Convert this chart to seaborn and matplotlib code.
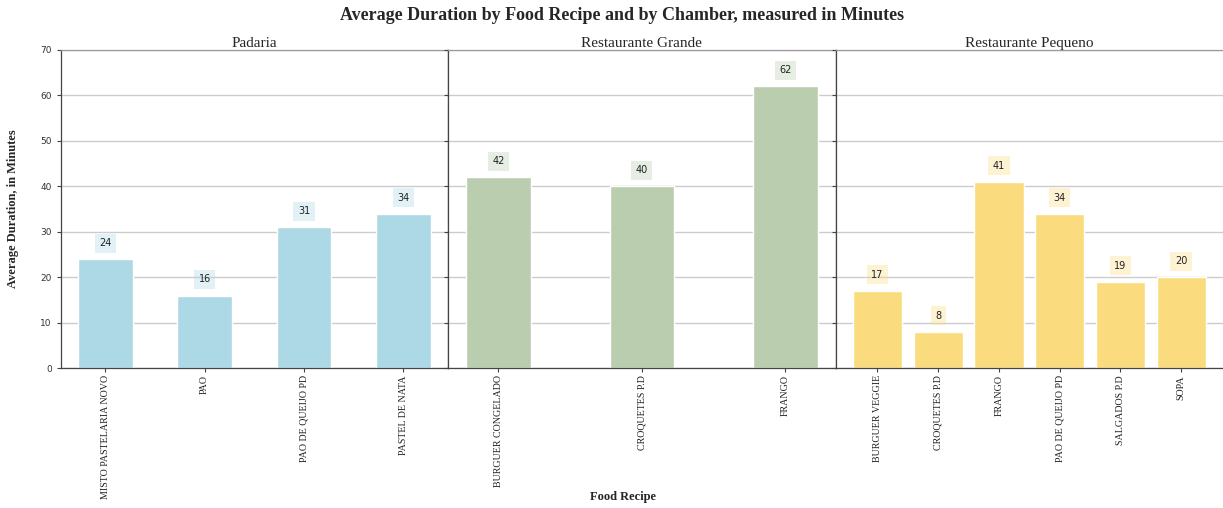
import matplotlib
matplotlib.use("Agg")
import matplotlib.pyplot as plt
import seaborn as sns
import pandas as pd

sns.set_style("white")

# Average duration (minutes) per recipe, grouped by chamber
padaria_recipes = ["MISTO PASTELARIA NOVO", "PAO", "PAO DE QUEIJO PD", "PASTEL DE NATA"]
padaria_minutes = [24, 16, 31, 34]

grande_recipes = ["BURGUER CONGELADO", "CROQUETES P.D", "FRANGO"]
grande_minutes = [42, 40, 62]

pequeno_recipes = ["BURGUER VEGGIE", "CROQUETES P.D", "FRANGO", "PAO DE QUEIJO PD",
                   "SALGADOS P.D", "SOPA"]
pequeno_minutes = [17, 8, 41, 34, 19, 20]

chambers = ["Padaria", "Restaurante Grande", "Restaurante Pequeno"]
chamber_colors = ["#ADD8E6", "#BACDAF", "#FADC7E"]

y_ticks = [0, 10, 20, 30, 40, 50, 60, 70]

SERIF = "Liberation Serif"

panels = [
    (padaria_recipes, padaria_minutes, 0.55, (-0.45, 3.45)),
    (grande_recipes, grande_minutes, 0.45, (-0.35, 2.35)),
    (pequeno_recipes, pequeno_minutes, 0.81, (-0.69, 5.69)),
]

fig = plt.figure(figsize=(12.23, 5.08), dpi=100)
gs = fig.add_gridspec(1, 3, left=0.0496, right=1.0, top=0.9016, bottom=0.275, wspace=0)
axes = [fig.add_subplot(gs[0, i]) for i in range(3)]

for i, (ax, (recipes, minutes, width, xlim)) in enumerate(zip(axes, panels)):
    df = pd.DataFrame({"recipe": recipes, "minutes": minutes})
    sns.barplot(data=df, x="recipe", y="minutes", color=chamber_colors[i],
                width=width, saturation=1, ax=ax, errorbar=None, zorder=2)
    ax.set_xlim(*xlim)
    ax.set_ylim(0, 70)
    ax.set_yticks(y_ticks)
    ax.yaxis.grid(True, color="#cccccc", linewidth=1, zorder=0)
    ax.set_axisbelow(True)
    ax.set_xlabel("")
    ax.set_ylabel("")
    ax.set_title(chambers[i], fontsize=11, family=SERIF, pad=2)

    for container in ax.containers:
        labels = ax.bar_label(container, fmt="%d", padding=8, fontsize=7,
                              color="#222222", family="DejaVu Sans")
        for t in labels:
            t.set_bbox(dict(facecolor=chamber_colors[i], alpha=0.35,
                            edgecolor="none", pad=3.2))

    ax.tick_params(axis="x", bottom=True, length=3, width=0.8, color="#444444",
                   labelsize=7.2, labelrotation=90, labelcolor="#222222", pad=2)
    ax.tick_params(axis="y", left=True, length=3, width=0.8, color="#444444",
                   labelsize=6.5, labelcolor="#333333")
    for lbl in ax.get_xticklabels():
        lbl.set_family(SERIF)
    if i > 0:
        ax.tick_params(axis="y", labelleft=False)

    for side in ["left", "right", "bottom"]:
        ax.spines[side].set_visible(True)
        ax.spines[side].set_color("#444444")
        ax.spines[side].set_linewidth(0.9)
    ax.spines["top"].set_visible(True)
    ax.spines["top"].set_color("#999999")
    ax.spines["top"].set_linewidth(0.9)

# outermost right edge runs flush with the figure border
axes[-1].spines["right"].set_visible(False)

axes[0].set_ylabel("Average Duration, in Minutes", fontsize=9, family=SERIF,
                   fontweight="bold", labelpad=15)

fig.text(0.509, 0.0217, "Food Recipe", ha="center", va="center", fontsize=9,
         family=SERIF, fontweight="bold")
fig.suptitle("Average Duration by Food Recipe and by Chamber, measured in Minutes",
             x=0.509, y=0.97, va="center", fontsize=13, family=SERIF, fontweight="bold")

fig.savefig("out.png", dpi=100)
